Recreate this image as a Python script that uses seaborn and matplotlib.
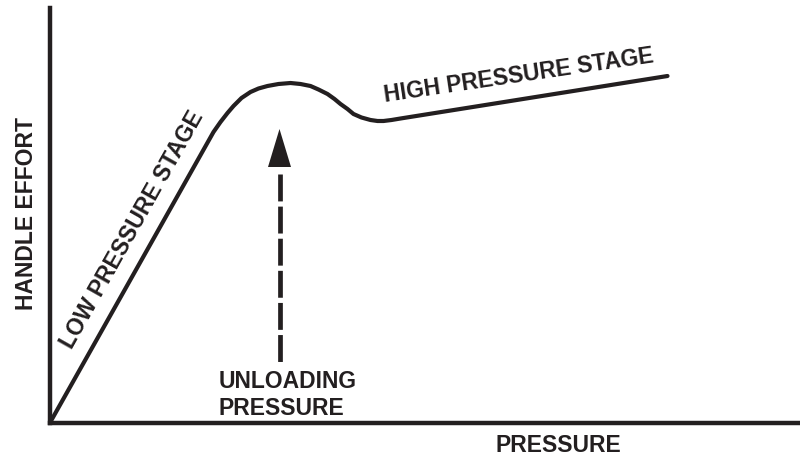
import matplotlib
matplotlib.use("Agg")
import matplotlib.pyplot as plt
import seaborn as sns

# curve (pressure -> handle effort, arbitrary units)
pressure = [2, 164, 171, 178, 184, 192, 201, 209, 218, 229, 241, 251, 261,
            269, 278, 285, 291, 298, 304, 312, 321, 328, 334, 342, 351, 618]
effort = [3, 291, 301, 310, 317, 325, 331, 334.5, 337, 339, 340, 339, 337,
          333.5, 329, 324, 319, 314, 309, 305.5, 303, 302, 302, 303, 304.5, 347]

# unloading pressure marker
unload_x = 230
unload_tail = 61
unload_shaft_top = 249
unload_head_base = 256
unload_tip = 294

axis_title_x = "PRESSURE"
axis_title_y = "HANDLE EFFORT"
low_label = "LOW PRESSURE STAGE"
high_label = "HIGH PRESSURE STAGE"
unload_label = ["UNLOADING", "PRESSURE"]

ink = "#231f20"

sns.set_theme(style="white")
plt.rcParams["font.family"] = ["Liberation Sans", "DejaVu Sans"]

fig = plt.figure(figsize=(8, 4.56), dpi=100)
ax = fig.add_axes([49.5 / 800, 32 / 456, 750.5 / 800, 415 / 456])

sns.lineplot(x=pressure, y=effort, ax=ax, color=ink, lw=3.0, sort=False,
             estimator=None)

# dashed shaft + head
ax.plot([unload_x, unload_x], [unload_shaft_top, unload_tail], color=ink,
        lw=3.4, dashes=(5.7, 1.1), solid_capstyle="butt")
ax.arrow(unload_x, unload_head_base, 0, unload_tip - unload_head_base,
         width=0, head_width=23, head_length=unload_tip - unload_head_base,
         length_includes_head=True, fc=ink, ec=ink, lw=0)

ax.set_xlim(0, 750.5)
ax.set_ylim(0, 415)
ax.set_xticks([])
ax.set_yticks([])

for side in ["top", "right"]:
    ax.spines[side].set_visible(False)
for side in ["left", "bottom"]:
    ax.spines[side].set_linewidth(3.2)
    ax.spines[side].set_color(ink)

fs = 16.5
ax.set_xlabel(axis_title_x, fontsize=fs, fontweight="bold", color=ink,
              va="baseline", ha="center")
ax.xaxis.set_label_coords(0.678, -0.0675)
ax.set_ylabel(axis_title_y, fontsize=fs, fontweight="bold", color=ink,
              va="baseline", ha="center", rotation_mode="anchor")
ax.yaxis.set_label_coords(-0.022, 0.508)

ax.text(22.5, 74, low_label, rotation=60.6, rotation_mode="anchor",
        ha="left", va="baseline", fontsize=fs, fontweight="bold", color=ink)
ax.text(335.5, 322, high_label, rotation=8.4, rotation_mode="anchor",
        ha="left", va="baseline", fontsize=fs, fontweight="bold", color=ink)
ax.text(169, 36, unload_label[0], ha="left", va="baseline", fontsize=fs,
        fontweight="bold", color=ink)
ax.text(169, 9, unload_label[1], ha="left", va="baseline", fontsize=fs,
        fontweight="bold", color=ink)

fig.savefig("out.png", dpi=100, facecolor="white")
